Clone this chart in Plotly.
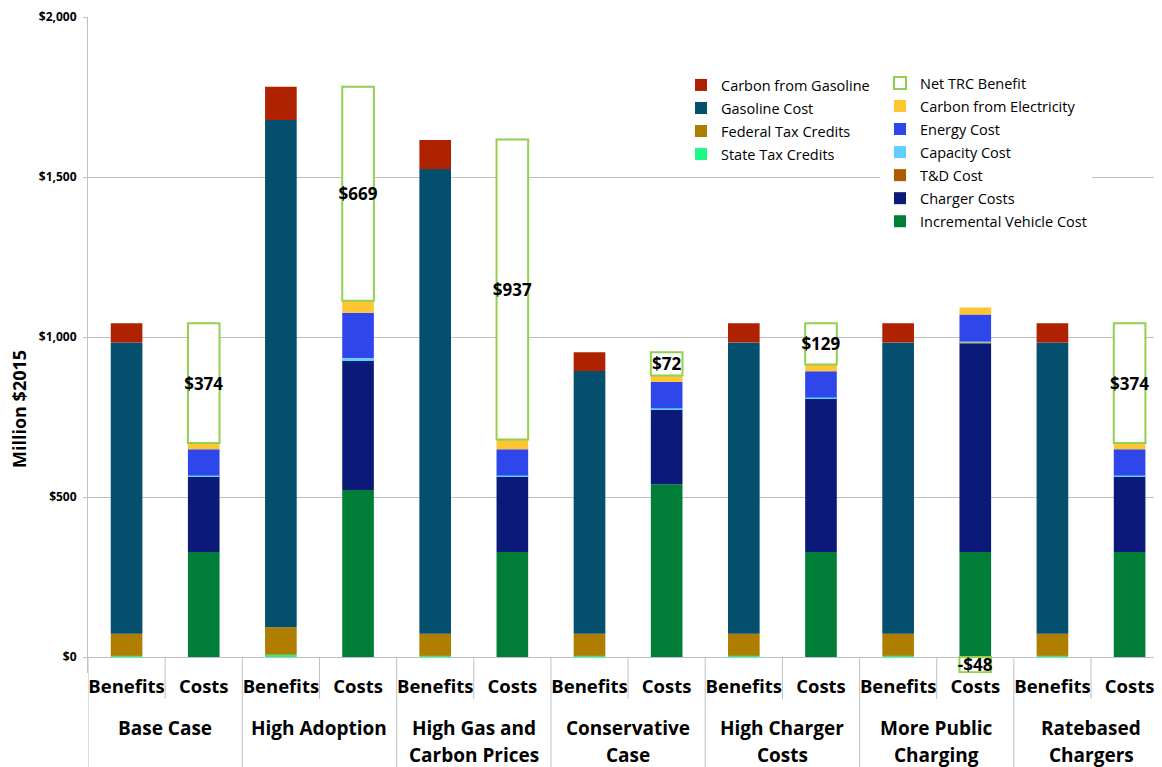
import plotly.graph_objects as go

# scenario groups, each with a Benefits bar and a Costs bar
scenarios = ['Base Case', 'High Adoption', 'High Gas and<br>Carbon Prices', 'Conservative<br>Case',
             'High Charger<br>Costs', 'More Public<br>Charging', 'Ratebased<br>Chargers']
bar_labels = ['Benefits', 'Costs']

# benefits, bottom to top (Million $2015)
state_tax_credits = [4, 7, 4, 4, 4, 4, 4]
federal_tax_credits = [69, 86, 69, 69, 69, 69, 69]
gasoline_cost = [910, 1585, 1452, 821, 910, 910, 910]
carbon_from_gasoline = [60, 104, 91, 58, 60, 60, 60]

# costs, bottom to top
incremental_vehicle_cost = [328, 522, 328, 540, 328, 328, 328]
charger_costs = [235, 403, 235, 233, 479, 652, 235]
td_cost = [1, 3, 1, 1, 1, 2, 1]
capacity_cost = [3, 6, 3, 3, 3, 4, 3]
energy_cost = [82, 142, 82, 82, 82, 84, 82]
carbon_from_electricity = [20, 37, 31, 21, 21, 22, 20]
net_trc_benefit = [374, 669, 937, 72, 129, -48, 374]

y_ticks = [0, 500, 1000, 1500, 2000]

FONT = 'Open Sans'

# the page body has an 8px margin, so the figure is drawn 8px in from the window corner
PAGE_W, PAGE_H = 1162, 767
BODY = 8
FIG_W, FIG_H = PAGE_W - BODY, PAGE_H - BODY

# plot area, in window pixels
PLOT_LEFT = 88
PLOT_TOP = 17
PLOT_BOTTOM = 673
H = PLOT_BOTTOM - PLOT_TOP
W = PAGE_W - PLOT_LEFT


def paper_y(py):
    return (PLOT_BOTTOM - py) / H


def paper_x(px):
    return (px - PLOT_LEFT) / W


x_benefits = [2 * i for i in range(len(scenarios))]
x_costs = [2 * i + 1 for i in range(len(scenarios))]

fig = go.Figure()

benefit_series = [
    ('State Tax Credits', state_tax_credits, '#1DF985'),
    ('Federal Tax Credits', federal_tax_credits, '#AF7D00'),
    ('Gasoline Cost', gasoline_cost, '#044F6E'),
    ('Carbon from Gasoline', carbon_from_gasoline, '#AF2200'),
]
for k, (name, vals, color) in enumerate(benefit_series):
    fig.add_trace(go.Bar(x=x_benefits, y=vals, name=name, marker=dict(color=color, line=dict(width=0)),
                         legend='legend', legendgroup=name, legendrank=100 - k))

cost_series = [
    ('Incremental Vehicle Cost', incremental_vehicle_cost, '#007E37'),
    ('Charger Costs', charger_costs, '#0B1A78'),
    ('T&D Cost', td_cost, '#B05A00'),
    ('Capacity Cost', capacity_cost, '#62CDFF'),
    ('Energy Cost', energy_cost, '#2F46EA'),
    ('Carbon from Electricity', carbon_from_electricity, '#FFC533'),
]
for k, (name, vals, color) in enumerate(cost_series):
    fig.add_trace(go.Bar(x=x_costs, y=vals, name=name, marker=dict(color=color, line=dict(width=0)),
                         legend='legend2', legendgroup=name, legendrank=100 - k))

# net benefit drawn as an outlined box on top of the costs
net_text = [('-$%d' % abs(v)) if v < 0 else ('$%d' % v) for v in net_trc_benefit]
fig.add_trace(go.Bar(x=x_costs, y=net_trc_benefit, name='Net TRC Benefit',
                     marker=dict(color='white', line=dict(color='#92D050', width=2)),
                     text=net_text, textposition='inside', insidetextanchor='middle', textangle=0,
                     textfont=dict(family=FONT, size=17, color='black', weight='bold'),
                     legend='legend2', legendgroup='Net TRC Benefit', legendrank=1))

# group labels under the Benefits/Costs labels, one annotation per line
annotations = []
for i, name in enumerate(scenarios):
    for j, line in enumerate(name.split('<br>')):
        annotations.append(dict(x=2 * i + 0.5, xref='x', y=paper_y(728 + 27 * j), yref='paper',
                                text=line, showarrow=False, xanchor='center', yanchor='middle',
                                font=dict(family=FONT, size=19, color='black', weight='bold')))

# y axis title
annotations.append(dict(x=paper_x(19), xref='paper', y=paper_y(409), yref='paper', text='Million $2015',
                        textangle=-90, showarrow=False, xanchor='center', yanchor='middle',
                        font=dict(family=FONT, size=18, color='black', weight='bold')))

# divider lines of the category axis
shapes = []
for i in range(len(scenarios)):
    shapes.append(dict(type='line', xref='x', yref='paper', x0=2 * i - 0.5, x1=2 * i - 0.5,
                       y0=paper_y(657), y1=paper_y(PAGE_H), line=dict(color='#BFBFBF', width=1)))
    shapes.append(dict(type='line', xref='x', yref='paper', x0=2 * i + 0.5, x1=2 * i + 0.5,
                       y0=paper_y(657), y1=paper_y(699), line=dict(color='#BFBFBF', width=1)))

legend_style = dict(bgcolor='white', borderwidth=0, traceorder='grouped', tracegroupgap=1.2,
                    itemwidth=30, font=dict(family=FONT, size=14.5, color='black'),
                    xanchor='left', yanchor='top', xref='paper', yref='paper')

fig.update_layout(
    barmode='relative',
    bargap=0.59,
    width=FIG_W, height=FIG_H,
    margin=dict(l=PLOT_LEFT - BODY, r=0, t=PLOT_TOP - BODY, b=PAGE_H - PLOT_BOTTOM, autoexpand=False),
    paper_bgcolor='white', plot_bgcolor='white',
    font=dict(family=FONT, color='black'),
    showlegend=True,
    legend=dict(x=paper_x(681), y=paper_y(69), **legend_style),
    legend2=dict(x=paper_x(880), y=paper_y(67), **legend_style),
    annotations=annotations,
    shapes=shapes,
    uniformtext=dict(minsize=17, mode='show'),
)

fig.update_xaxes(range=[-0.5, 13.42], tickvals=x_benefits + x_costs, automargin=False,
                 ticktext=[bar_labels[0]] * len(x_benefits) + [bar_labels[1]] * len(x_costs),
                 tickfont=dict(family=FONT, size=18.5, color='black', weight='bold'),
                 showgrid=False, zeroline=False, showline=False, ticks='')

fig.update_yaxes(range=[-50, 2000], tickvals=y_ticks, ticktext=['${:,}'.format(v) for v in y_ticks],
                 automargin=False,
                 tickfont=dict(family=FONT, size=12, color='black', weight='bold'),
                 showgrid=True, gridcolor='#BFBFBF', gridwidth=1,
                 zeroline=True, zerolinecolor='#BFBFBF', zerolinewidth=1,
                 showline=True, linecolor='#BFBFBF', linewidth=1,
                 ticks='outside', ticklen=4, tickcolor='#BFBFBF', ticklabelstandoff=4)

fig.write_html("out.html")
